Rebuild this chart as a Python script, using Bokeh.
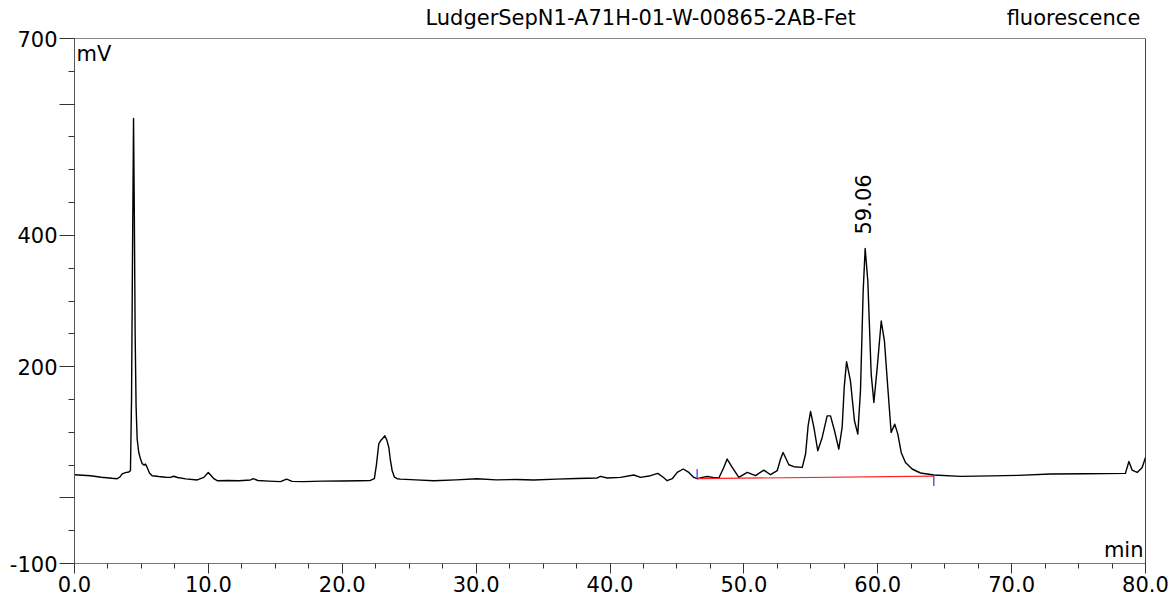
from bokeh.plotting import figure
from bokeh.models import FixedTicker, Label, Range1d, Span, PrintfTickFormatter, LinearAxis
from bokeh.embed import file_html
from bokeh.resources import INLINE

FONT = "DejaVu Sans"
FS = "21px"

# retention time (min) and fluorescence signal (mV)
rt = [0.0, 0.6, 1.2, 2.0, 2.8, 3.19, 3.4, 3.56, 3.8, 4.06, 4.18, 4.26, 4.33, 4.41, 4.47, 4.53, 4.6, 4.68,
      4.80, 4.95, 5.06, 5.2, 5.3, 5.43, 5.6, 5.80, 6.3, 6.8, 7.17, 7.42, 7.7, 8.3, 9.17, 9.66, 9.99, 10.2,
      10.41, 10.66, 11.5, 12.3, 13.15, 13.35, 13.7, 14.5, 15.39, 15.84, 16.26, 17.1, 18.5, 20.0, 21.2, 22.1,
      22.4, 22.55, 22.73, 22.86, 23.0, 23.18, 23.33, 23.48, 23.6, 23.73, 23.9, 24.1, 24.35, 25.5, 26.84,
      28.5, 30.08, 31.5, 33.0, 34.31, 36.0, 37.5, 39.04, 39.29, 39.79, 40.78, 41.78, 42.28, 43.03, 43.57,
      44.0, 44.27, 44.65, 45.02, 45.47, 45.89, 46.26, 46.51, 46.89, 47.26, 47.7, 48.13, 48.5, 48.75, 49.13,
      49.62, 50.25, 50.87, 51.49, 51.99, 52.49, 52.74, 52.93, 53.36, 53.73, 54.36, 54.61, 54.8, 54.98,
      55.23, 55.52, 55.85, 56.22, 56.47, 56.77, 57.09, 57.34, 57.5, 57.67, 57.96, 58.26, 58.51, 58.71,
      58.91, 59.06, 59.26, 59.51, 59.71, 59.96, 60.26, 60.50, 60.75, 61.00, 61.27, 61.50, 61.75, 62.07,
      62.57, 63.19, 64.19, 66.18, 68.5, 70.5, 72.9, 75.5, 78.5, 78.76, 79.0, 79.38, 79.75, 80.0]
signal = [35.3, 34.5, 33.8, 31.5, 29.8, 29.2, 32.0, 36.5, 38.5, 39.5, 41.4, 150, 360, 578, 430, 250, 140, 90,
          69.2, 58, 52.1, 50, 51.5, 46.4, 38, 33.8, 32.5, 31.5, 31.2, 33.0, 31, 29, 27.3, 31.2, 38.8, 34,
          29.2, 26.2, 26.5, 26.0, 27.3, 29.2, 26.5, 25.5, 24.7, 28.7, 25.2, 24.7, 25.5, 25.8, 26.2, 26.5,
          29.2, 50, 82.5, 87, 90, 94.6, 88, 76.8, 57, 41.4, 31.5, 29.2, 28.5, 27.5, 26.2,
          27.5, 29.2, 27.5, 28, 27.3, 28.5, 29.5, 30.3, 32.8, 30.3, 31.2, 34.9, 31.2, 33.8, 37.3,
          31, 26.2, 29.2, 38.8, 44, 38.8, 31.2, 29.2, 31.2, 32.5, 31.2, 30.3, 46.4, 59.2, 46.4,
          31.2, 38.8, 33.8, 42.3, 35.3, 41.4, 59.2, 69.2, 50.5, 47.5, 46.4, 66.8, 110, 131.6,
          107.3, 71.8, 92.1, 125, 125, 102.3, 74.4, 107.3, 170, 207.6, 178.3, 117.5, 97.2, 163,
          315, 380, 330, 188.5, 145.3, 198.5, 269.5, 239, 168.1, 99.7, 112.4, 97.2, 69.2, 54,
          44, 37.9, 34.9, 32.8, 33.5, 34.3, 36.4, 36.8, 37.3, 55.4, 42.3, 38.8, 46.4, 61.6]

# integration baseline (red) and its start / end markers (blue)
baseline_x = [46.51, 64.19]
baseline_y = [29.2, 33.2]
start_mark_y = [29.2, 44.0]
end_mark_y = [33.2, 18.0]

peak_rt = 59.06
peak_mv = 380.0
peak_text = "59.06"

x_major = [0, 10, 20, 30, 40, 50, 60, 70, 80]
x_minor = [i * 2.5 for i in range(33)]
y_major = [-100, 0, 200, 400, 600, 700]
y_minor = list(range(-100, 701, 50))
y_labels = {-100: "-100", 0: "", 600: ""}

title_text = "LudgerSepN1-A71H-01-W-00865-2AB-Fet"
detector_text = "fluorescence"
header_pos = [42.28, 74.62]
y_unit = "mV"
x_unit = "min"

p = figure(width=1171, height=599, output_backend="svg", toolbar_location=None,
           x_range=Range1d(0, 80), y_range=Range1d(-100, 700),
           min_border_left=74, min_border_right=26, min_border_top=38, min_border_bottom=36,
           background_fill_color="white", border_fill_color="white")
p.grid.visible = False
p.outline_line_color = "#888888"
p.outline_line_width = 1

bottom = p.below[0]
left = p.left[0]

bottom.ticker = FixedTicker(ticks=x_major, minor_ticks=x_minor)
bottom.formatter = PrintfTickFormatter(format="%.1f")
bottom.axis_line_color = "#777777"
bottom.major_tick_line_color = "#333333"
bottom.minor_tick_line_color = "#333333"
bottom.major_tick_out = 10
bottom.major_tick_in = 0
bottom.minor_tick_out = 5
bottom.minor_tick_in = 0
bottom.major_label_standoff = 2

left.ticker = FixedTicker(ticks=y_major, minor_ticks=y_minor)
left.major_label_overrides = y_labels
left.axis_line_color = "#555555"
left.major_tick_line_color = "#333333"
left.minor_tick_line_color = "#333333"
left.major_tick_out = 15
left.major_tick_in = 0
left.minor_tick_out = 6
left.minor_tick_in = 0
left.major_label_standoff = 2

# header texts (title and detector) set as labels of an axis above the frame
top = LinearAxis(ticker=FixedTicker(ticks=header_pos, minor_ticks=[]),
                 major_label_overrides={header_pos[0]: title_text, header_pos[1]: detector_text},
                 axis_line_color=None, major_tick_line_color=None, minor_tick_line_color=None,
                 major_tick_out=0, major_tick_in=0, major_label_standoff=9)
p.add_layout(top, "above")

for ax in (bottom, left, top):
    ax.major_label_text_font = FONT
    ax.major_label_text_font_size = FS
    ax.major_label_text_color = "black"

p.add_layout(Span(location=80, dimension="height", line_color="black", line_width=1))

# trace
p.line(rt, signal, line_color="black", line_width=1.4, line_join="round")
p.line(baseline_x, baseline_y, line_color="#ff2020", line_width=1.2)
p.line([baseline_x[0], baseline_x[0]], start_mark_y, line_color="#3030ff", line_width=1.2)
p.line([baseline_x[1], baseline_x[1]], end_mark_y, line_color="#3030ff", line_width=1.2)

def lab(**kw):
    p.add_layout(Label(text_font=FONT, text_font_size=FS, text_color="black", **kw))

lab(x=peak_rt, y=peak_mv, y_offset=14, x_offset=-2, text=peak_text, angle=90, angle_units="deg",
    text_align="left", text_baseline="middle")
lab(x=0, y=700, x_offset=2, y_offset=-3, text=y_unit, text_align="left", text_baseline="top")
lab(x=80, y=-100, x_offset=-2, y_offset=2, text=x_unit, text_align="right", text_baseline="bottom")

open("out.html", "w").write(file_html(p, INLINE))
